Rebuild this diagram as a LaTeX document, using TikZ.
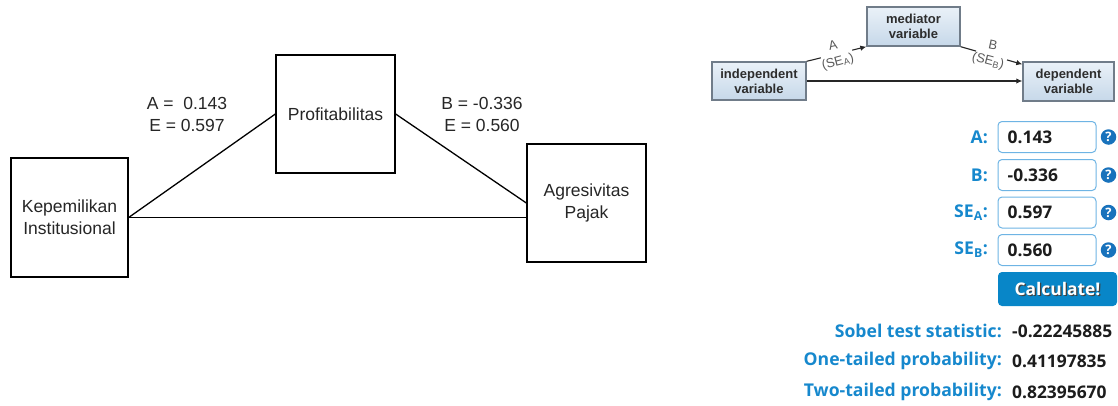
\documentclass[tikz,border=0pt]{standalone}
\usepackage{fontspec}
\setmainfont{Liberation Sans}
\newfontfamily\osans{Open Sans}
\usetikzlibrary{arrows.meta}

\definecolor{txtgray}{RGB}{38,38,38}
\definecolor{minitop}{RGB}{234,241,248}
\definecolor{minibot}{RGB}{198,216,233}
\definecolor{miniedge}{RGB}{112,124,137}
\definecolor{minitext}{RGB}{45,45,45}
\definecolor{minilabel}{RGB}{90,90,90}
\definecolor{uiblue}{RGB}{22,136,205}
\definecolor{fieldedge}{RGB}{110,180,228}
\definecolor{valtext}{RGB}{28,28,28}
\definecolor{iconblue}{RGB}{24,114,188}
\definecolor{btnblue}{RGB}{8,134,200}

\begin{document}
\begin{tikzpicture}[x=1pt,y=-1pt,
  pathbox/.style={draw=black, line width=1.3pt, fill=white, align=center,
    text=txtgray, font=\fontsize{17.5}{22}\selectfont, inner sep=0pt},
  link/.style={line width=1.3pt},
  coef/.style={align=center, text=txtgray, font=\fontsize{17.5}{22}\selectfont},
  minibox/.style={draw=miniedge, line width=1.4pt, top color=minitop,
    bottom color=minibot, align=center, text=minitext, inner sep=0pt,
    font=\bfseries\fontsize{13}{15}\selectfont},
  miniarrow/.style={line width=1.1pt, draw=black!85,
    -{Latex[length=6pt,width=5.5pt]}},
  gap/.style={fill=white, inner sep=0pt, minimum width=32, minimum height=8},
  minilbl/.style={inner sep=0pt, text=minilabel,
    font=\fontsize{13}{14}\selectfont},
  fieldlbl/.style={anchor=east, text=uiblue, inner sep=0pt,
    font=\osans\bfseries\fontsize{17.6}{20}\selectfont},
  field/.style={draw=fieldedge, line width=1pt, rounded corners=4pt,
    fill=white, minimum width=98, minimum height=31, inner sep=0pt},
  fieldval/.style={anchor=west, text=valtext, inner sep=0pt,
    font=\osans\bfseries\fontsize{17.4}{20}\selectfont},
  helpicon/.style={circle, fill=iconblue, minimum size=15.5, inner sep=0pt,
    text=white, font=\osans\bfseries\fontsize{13}{13}\selectfont},
  calcbtn/.style={rounded corners=4pt, fill=btnblue, minimum width=119,
    minimum height=34, inner sep=0pt},
  btntext/.style={font=\osans\bfseries\fontsize{17.4}{20}\selectfont, inner sep=0pt},
]
\useasboundingbox (0,0) rectangle (1118,405);

% ---- mediation model ----
\node[pathbox, minimum width=117, minimum height=119] (kep) at (69.5,217.5)
  {Kepemilikan\\Institusional};
\node[pathbox, minimum width=119, minimum height=118] (prof) at (335.5,114)
  {Profitabilitas};
\node[pathbox, minimum width=119, minimum height=118] (agr) at (586.5,203)
  {Agresivitas\\Pajak};

\draw[link] (kep.east) -- (prof.west);
\draw[link] (prof.east) -- (agr.west);
\draw[link] (kep.east) -- (kep.east -| agr.west);

\node[coef] (coefa) at (187,114) {A = \ 0.143\\E = 0.597};
\node[coef] (coefb) at (482,114) {B = -0.336\\E = 0.560};

% ---- Sobel schematic ----
\node[minibox, minimum width=94, minimum height=38] (ind) at (759,81)
  {independent\\variable};
\node[minibox, minimum width=93, minimum height=39] (med) at (913.5,26.5)
  {mediator\\variable};
\node[minibox, minimum width=91, minimum height=39] (dep) at (1068.5,81.5)
  {dependent\\variable};

\draw[miniarrow] (ind.north east) -- (med.south west)
  node[pos=0.5, gap, rotate=15] (gapa) {};
\draw[miniarrow] (med.south east) -- ([yshift=-3pt]dep.north west)
  node[pos=0.5, gap, rotate=-15] (gapb) {};
\draw[miniarrow] (ind.east) -- (ind.east -| dep.west);

\node[minilbl, rotate=12] (lbla) at (833,45) {A};
\node[minilbl, rotate=15] (lblsea) at (838,62) {(SE\textsubscript{A})};
\node[minilbl, rotate=-12] (lblb) at (993,45) {B};
\node[minilbl, rotate=-15] (lblseb) at (988,61) {(SE\textsubscript{B})};

% ---- input form ----
\node[fieldlbl] (la) at (988,137) {A:};
\node[fieldlbl] (lb) at (988,175) {B:};
\node[fieldlbl] (lsa) at (988,212.5) {SE\textsubscript{A}:};
\node[fieldlbl] (lsb) at (988,250) {SE\textsubscript{B}:};

\node[field] (fa) at (1047,137) {};
\node[field] (fb) at (1047,175) {};
\node[field] (fsa) at (1047,212.5) {};
\node[field] (fsb) at (1047,250) {};

\node[fieldval] (va) at ([xshift=10pt]fa.west) {0.143};
\node[fieldval] (vb) at ([xshift=10pt]fb.west) {-0.336};
\node[fieldval] (vsa) at ([xshift=10pt]fsa.west) {0.597};
\node[fieldval] (vsb) at ([xshift=10pt]fsb.west) {0.560};

\node[helpicon] (ha) at (1108.5,137) {?};
\node[helpicon] (hb) at (1108.5,175) {?};
\node[helpicon] (hsa) at (1108.5,212.5) {?};
\node[helpicon] (hsb) at (1108.5,250) {?};

\node[calcbtn] (calc) at (1057.5,289) {};
\node[btntext, text=black!75] (calcshadow) at ([shift={(1.2,1.2)}]calc.center) {Calculate!};
\node[btntext, text=white] (calctext) at (calc.center) {Calculate!};

% ---- results ----
\node[fieldlbl] (rs) at (1002,331) {Sobel test statistic:};
\node[fieldlbl] (r1) at (1002,361) {One-tailed probability:};
\node[fieldlbl] (r2) at (1002,392) {Two-tailed probability:};
\node[fieldval] (vs) at (1012,331) {-0.22245885};
\node[fieldval] (v1) at (1012,361) {0.41197835};
\node[fieldval] (v2) at (1012,392) {0.82395670};
\end{tikzpicture}
\end{document}
